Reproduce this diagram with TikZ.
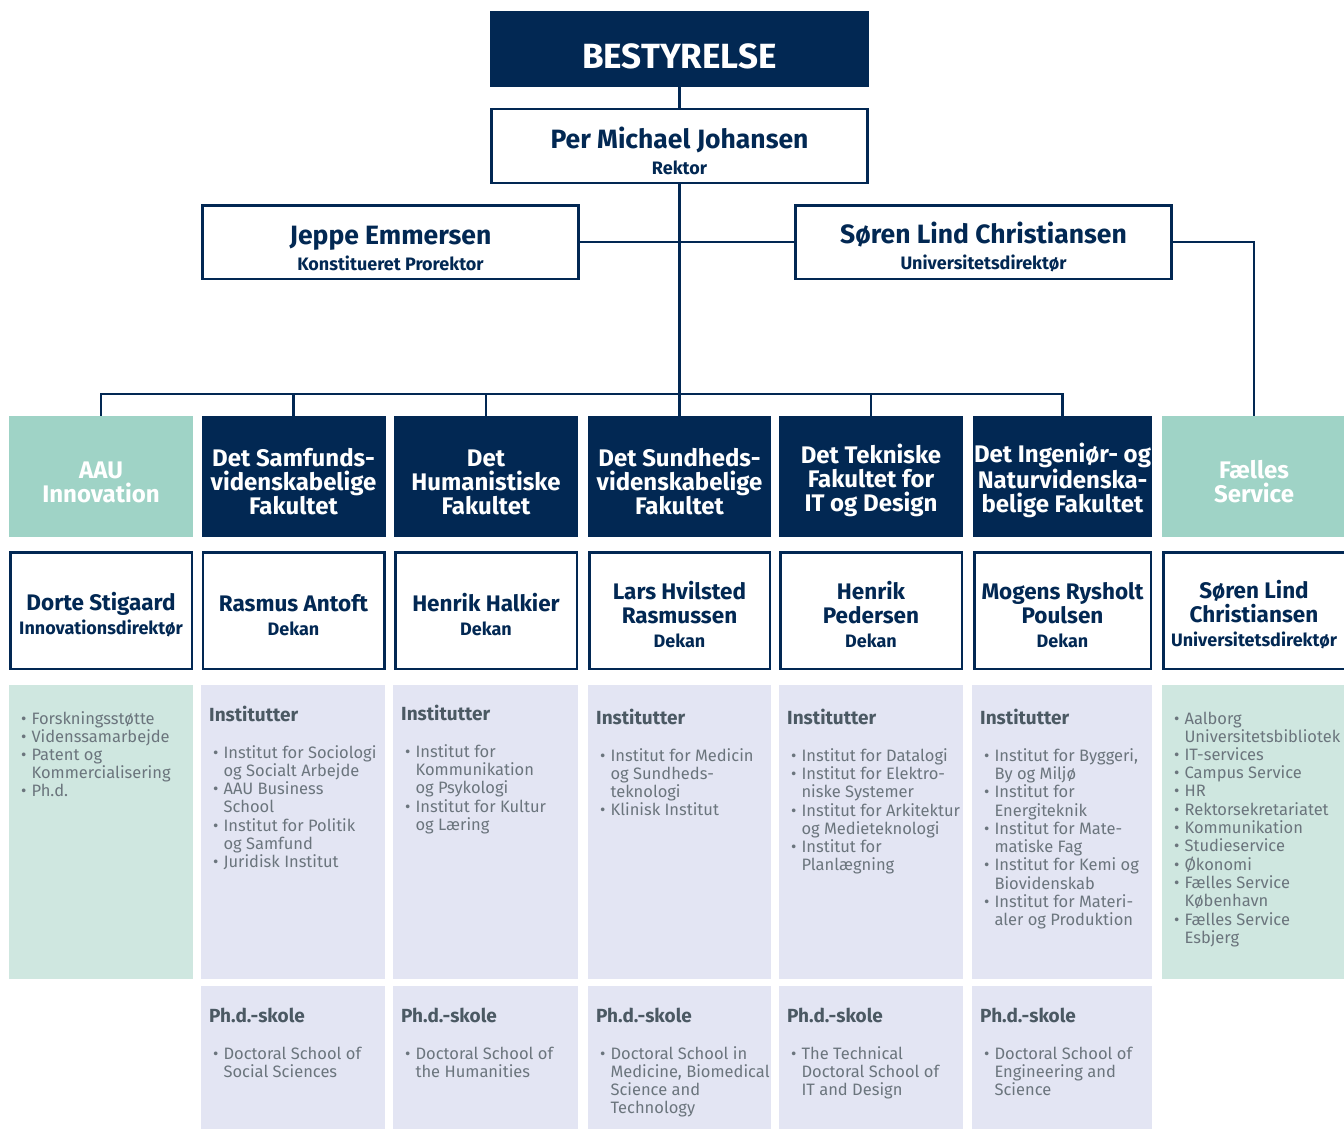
\documentclass[tikz,border=0pt]{standalone}
\usepackage{fontspec}
\setmainfont{Fira Sans}
\usetikzlibrary{positioning}
\definecolor{aaunavy}{HTML}{022853}
\definecolor{mintdark}{HTML}{9FD3C6}
\definecolor{mintlight}{HTML}{CFE7E0}
\definecolor{lavender}{HTML}{E3E5F3}
\definecolor{headgrey}{HTML}{4B5963}
\definecolor{bodygrey}{HTML}{6B757D}

\newcommand{\pad}{\rule{0pt}{1.15em}}
\newcommand{\role}[1]{{\fontsize{18}{18}\selectfont #1}}
\newcommand{\bu}{\hspace{4pt}\textbullet}
\newcommand{\unitlist}[1]{\begin{tabular}[t]{@{}l@{\hspace{5pt}}l@{}}#1\end{tabular}}
\newcommand{\hd}[1]{\multicolumn{2}{@{}l@{}}{\color{headgrey}\bfseries\fontsize{19}{18}\selectfont #1}\\[19pt]}

\begin{document}
\begin{tikzpicture}[x=1pt, y=-1pt,
  every node/.style={inner sep=0pt},
  link/.style={draw=aaunavy, line width=2.5pt},
  board/.style={fill=aaunavy, text=white, minimum width=379pt, minimum height=76pt, font=\bfseries\fontsize{35}{36}\selectfont},
  leader/.style={draw=aaunavy, line width=2.5pt, fill=white, text=aaunavy, align=center, minimum width=376pt, minimum height=73.5pt, font=\bfseries\fontsize{26.5}{26}\selectfont},
  faculty/.style={fill=aaunavy, text=white, align=center, minimum height=121pt, font=\bfseries\fontsize{24}{24}\selectfont},
  unit/.style={faculty, fill=mintdark},
  dean/.style={draw=aaunavy, line width=2.5pt, fill=white, text=aaunavy, align=center, minimum height=116.5pt, font=\bfseries\fontsize{22.5}{24}\selectfont},
  panel/.style={fill=lavender, minimum height=294pt},
  phd/.style={fill=lavender, minimum height=146pt},
  items/.style={anchor=base west, text=bodygrey, font=\fontsize{16.5}{18}\selectfont}]
\useasboundingbox (0,0) rectangle (1344,1129);

% top of the chart
\node[board] (board) at (679.5,49) {\pad BESTYRELSE};
\node[leader] (rektor) at (679.5,146) {\pad Per Michael Johansen\\\role{Rektor}};
\node[leader] (jeppe) at (390.5,242) {\pad Jeppe Emmersen\\\role{Konstitueret Prorektor}};
\node[leader] (soren) at (983.5,242) {\pad Søren Lind Christiansen\\\role{Universitetsdirektør}};

% faculties and units
\node[unit, minimum width=184pt] (aau) at (101,476.5) {\pad AAU\\Innovation};
\node[faculty, minimum width=184pt] (samf) at (293.5,476.5) {\pad Det Samfunds-\\videnskabelige\\Fakultet};
\node[faculty, minimum width=184pt] (hum) at (486,476.5) {\pad Det\\Humanistiske\\Fakultet};
\node[faculty, minimum width=183pt] (sund) at (679.5,476.5) {\pad Det Sundheds-\\videnskabelige\\Fakultet};
\node[faculty, minimum width=184pt] (tek) at (871,476.5) {\pad Det Tekniske\\Fakultet for\\IT og Design};
\node[faculty, minimum width=179pt] (ing) at (1062.5,476.5) {\pad Det Ingeniør- og\\Naturvidenska-\\belige Fakultet};
\node[unit, minimum width=184pt] (faelles) at (1254,476.5) {\pad Fælles\\Service};

% deans and directors
\node[dean, minimum width=181.5pt] (aaudean) at (101,610.5) {\pad Dorte Stigaard\\\role{Innovationsdirektør}};
\node[dean, minimum width=181.5pt] (samfdean) at (293.5,610.5) {\pad Rasmus Antoft\\\role{Dekan}};
\node[dean, minimum width=181.5pt] (humdean) at (486,610.5) {\pad Henrik Halkier\\\role{Dekan}};
\node[dean, minimum width=180.5pt] (sunddean) at (679.5,610.5) {\pad Lars Hvilsted\\Rasmussen\\\role{Dekan}};
\node[dean, minimum width=181.5pt] (tekdean) at (871,610.5) {\pad Henrik\\Pedersen\\\role{Dekan}};
\node[dean, minimum width=176.5pt] (ingdean) at (1062.5,610.5) {\pad Mogens Rysholt\\Poulsen\\\role{Dekan}};
\node[dean, minimum width=181.5pt] (faellesdean) at (1254,610.5) {\pad Søren Lind\\Christiansen\\\role{Universitetsdirektør}};

% institutes
\node[panel, fill=mintlight, minimum width=184pt] (aaupanel) at (101,832) {};
\node[panel, minimum width=184pt] (samfpanel) at (293,832) {};
\node[panel, minimum width=185pt] (humpanel) at (485.5,832) {};
\node[panel, minimum width=183pt] (sundpanel) at (679.5,832) {};
\node[panel, minimum width=184pt] (tekpanel) at (871,832) {};
\node[panel, minimum width=180pt] (ingpanel) at (1062,832) {};
\node[panel, fill=mintlight, minimum width=184pt] (faellespanel) at (1254,832) {};

\node[items] (aauitems) at (17,724) {\unitlist{\bu & Forskningsstøtte\\ \bu & Videnssamarbejde\\ \bu & Patent og\\ & Kommercialisering\\ \bu & Ph.d.}};
\node[items] (samfitems) at (209,721) {\unitlist{\hd{Institutter} \bu & Institut for Sociologi\\ & og Socialt Arbejde\\ \bu & AAU Business\\ & School\\ \bu & Institut for Politik\\ & og Samfund\\ \bu & Juridisk Institut}};
\node[items] (humitems) at (401,720) {\unitlist{\hd{Institutter} \bu & Institut for\\ & Kommunikation\\ & og Psykologi\\ \bu & Institut for Kultur\\ & og Læring}};
\node[items] (sunditems) at (596,724) {\unitlist{\hd{Institutter} \bu & Institut for Medicin\\ & og Sundheds-\\ & teknologi\\ \bu & Klinisk Institut}};
\node[items] (tekitems) at (787,724) {\unitlist{\hd{Institutter} \bu & Institut for Datalogi\\ & \\[-18pt] \bu & Institut for Elektro-\\ & niske Systemer\\ \bu & Institut for Arkitektur\\ & og Medieteknologi\\ \bu & Institut for\\ & Planlægning}};
\node[items] (ingitems) at (980,724) {\unitlist{\hd{Institutter} \bu & Institut for Byggeri,\\ & By og Miljø\\ \bu & Institut for\\ & Energiteknik\\ \bu & Institut for Mate-\\ & matiske Fag\\ \bu & Institut for Kemi og\\ & Biovidenskab\\ \bu & Institut for Materi-\\ & aler og Produktion}};
\node[items] (faellesitems) at (1170,724) {\unitlist{\bu & Aalborg\\ & Universitetsbibliotek\\ \bu & IT-services\\ \bu & Campus Service\\ \bu & HR\\ \bu & Rektorsekretariatet\\ \bu & Kommunikation\\ \bu & Studieservice\\ \bu & Økonomi\\ \bu & Fælles Service\\ & København\\ \bu & Fælles Service\\ & Esbjerg}};

% doctoral schools
\node[phd, minimum width=184pt] (samfphd) at (293,1059) {};
\node[phd, minimum width=185pt] (humphd) at (485.5,1059) {};
\node[phd, minimum width=183pt] (sundphd) at (679.5,1059) {};
\node[phd, minimum width=184pt] (tekphd) at (871,1059) {};
\node[phd, minimum width=180pt] (ingphd) at (1062,1059) {};

\node[items] (samfschool) at (209,1022) {\unitlist{\hd{Ph.d.-skole} \bu & Doctoral School of\\ & Social Sciences}};
\node[items] (humschool) at (401,1022) {\unitlist{\hd{Ph.d.-skole} \bu & Doctoral School of\\ & the Humanities}};
\node[items] (sundschool) at (596,1022) {\unitlist{\hd{Ph.d.-skole} \bu & Doctoral School in\\ & Medicine, Biomedical\\ & Science and\\ & Technology}};
\node[items] (tekschool) at (787,1022) {\unitlist{\hd{Ph.d.-skole} \bu & The Technical\\ & Doctoral School of\\ & IT and Design}};
\node[items] (ingschool) at (980,1022) {\unitlist{\hd{Ph.d.-skole} \bu & Doctoral School of\\ & Engineering and\\ & Science}};

% lines
\coordinate (bus) at (679.5,394);
\draw[link] (board) -- (rektor);
\draw[link] (rektor) -- (sund);
\draw[link] (jeppe) -- (soren);
\draw[link] (soren) -| (faelles);
\draw[link] (aau) |- (bus) -| (ing);
\foreach \f in {samf, hum, tek}
  \draw[link] (\f) -- (\f |- bus);
\end{tikzpicture}
\end{document}
